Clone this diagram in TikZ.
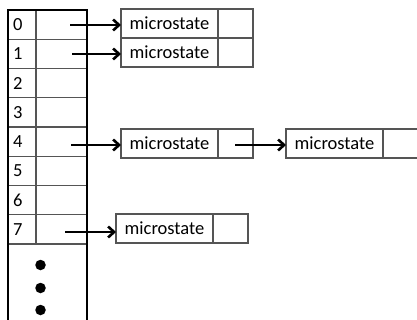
\documentclass[tikz,border=0pt]{standalone}
\usepackage{fontspec}
\setmainfont{Carlito}
\usetikzlibrary{arrows.meta}
\definecolor{thinline}{RGB}{85,85,85}
\begin{document}
\begin{tikzpicture}[x=1pt,y=-1pt,
  font=\fontsize{18.5}{22}\selectfont,
  cell/.style={draw=thinline,line width=1.2pt,anchor=north west,inner sep=0pt,outer sep=0pt,
               minimum height=#1},
  cell/.default=29pt,
  textcell/.style={cell=29pt,minimum width=97pt},
  ptrcell/.style={cell=29pt,minimum width=35pt},
  slot/.style={anchor=north west,inner sep=0pt,outer sep=0pt,minimum width=79pt,minimum height=29.25pt},
  idx/.style={anchor=west,inner sep=0pt},
  link/.style={line width=2.4pt,-{Straight Barb[length=6pt,width=11pt,line width=2.6pt]}},
  dot/.style={fill=black,circle,inner sep=0pt,minimum size=10.5pt}]
\useasboundingbox (0,0) rectangle (417,320);

% index table: one slot per row, thin grid lines
\foreach \k in {0,...,7}{
  \node[slot] (r\k) at (8,{10+29.25*\k}) {};
  \node[idx] (i\k) at (13,{10+29.25*(\k+0.5)}) {\k};
}
\foreach \k in {1,...,8}
  \draw[thinline,line width=1.2pt] (8,{10+29.25*\k}) -- (87,{10+29.25*\k});
\draw[thinline,line width=1.2pt] (36,10) -- (36,244);
% heavy outer frame, open at the bottom
\draw[line width=2.6pt] (8,322) -- (8,10) -- (87,10) -- (87,322);

% continuation dots
\node[dot] (d1) at (40.5,265) {};
\node[dot] (d2) at (40.5,288) {};
\node[dot] (d3) at (40.5,310) {};

% microstate records
\node[textcell] (m0) at (121,9) {microstate};
\node[ptrcell] (p0) at (218,9) {};
\node[textcell] (m1) at (121,38) {microstate};
\node[ptrcell] (p1) at (218,38) {};
\node[textcell] (m4) at (121,129) {microstate};
\node[ptrcell] (p4) at (218,129) {};
\node[textcell] (m5) at (286,129) {microstate};
\node[ptrcell] (p5) at (383,129) {};
\node[textcell] (m7) at (116,214) {microstate};
\node[ptrcell] (p7) at (213,214) {};

% pointer start points
\coordinate (s0) at (70,25);
\coordinate (s1) at (72,54);
\coordinate (s4) at (71,145);
\coordinate (s5) at (235,145);
\coordinate (s7) at (65,232);

% pointers
\draw[link] (s0) -- (m0.west |- s0);
\draw[link] (s1) -- (m1.west |- s1);
\draw[link] (s4) -- (m4.west |- s4);
\draw[link] (s5) -- (m5.west |- s5);
\draw[link] (s7) -- (m7.west |- s7);
\end{tikzpicture}
\end{document}
